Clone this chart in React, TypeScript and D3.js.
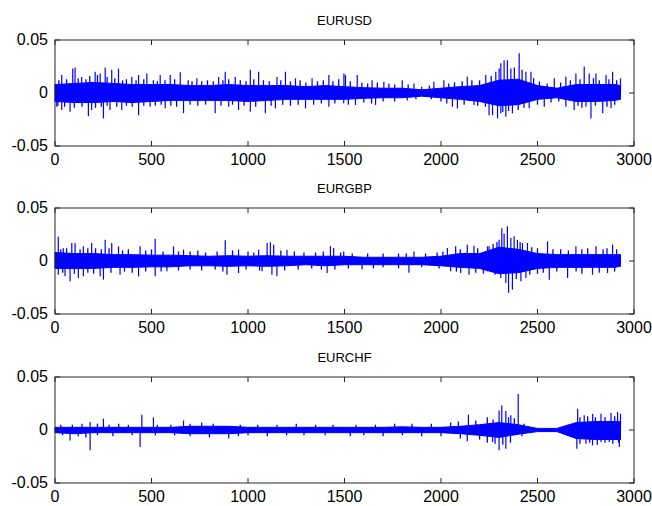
import React from 'react';
import * as d3 from 'd3';

const titles = ['EURUSD', 'EURGBP', 'EURCHF'];
const xTicks = [0, 500, 1000, 1500, 2000, 2500, 3000];
const yTicks = [-0.05, 0, 0.05];
const yTickLabels = ['-0.05', '0', '0.05'];

// dense core band, sampled every 100 observations (last sample at 2930)
const bandIndex = [0, 100, 200, 300, 400, 500, 600, 700, 800, 900, 1000, 1100, 1200, 1300, 1400, 1500, 1600, 1700, 1800, 1900, 2000, 2100, 2200, 2300, 2400, 2500, 2600, 2700, 2800, 2900, 2930];

const usdTop = [0.008, 0.009, 0.010, 0.009, 0.008, 0.008, 0.008, 0.007, 0.007, 0.008, 0.007, 0.007, 0.007, 0.006, 0.007, 0.006, 0.005, 0.0045, 0.0045, 0.003, 0.0045, 0.006, 0.007, 0.012, 0.013, 0.007, 0.0045, 0.008, 0.008, 0.008, 0.007];
const usdBottom = [-0.008, -0.009, -0.009, -0.008, -0.009, -0.008, -0.007, -0.007, -0.007, -0.007, -0.008, -0.007, -0.006, -0.006, -0.006, -0.006, -0.005, -0.0045, -0.0045, -0.003, -0.0045, -0.006, -0.008, -0.012, -0.011, -0.006, -0.0045, -0.008, -0.008, -0.007, -0.006];
// tallest visible excursions
const usdSpikes: [number, number][] = [
  [35, 0.017], [92, 0.023], [104, 0.024], [138, 0.015], [208, 0.020], [234, 0.0185], [260, 0.024], [294, 0.022], [329, 0.023], [398, 0.015], [433, 0.017], [476, 0.0185], [545, 0.017], [597, 0.017], [649, 0.0195], [735, 0.0138],
  [9, -0.013], [35, -0.016], [78, -0.0176], [173, -0.022], [190, -0.016], [251, -0.024], [285, -0.016], [346, -0.016], [433, -0.021], [493, -0.013], [571, -0.0145], [666, -0.019],
  [848, 0.015], [882, 0.020], [934, 0.015], [1012, 0.022], [1055, 0.020], [1150, 0.015], [1194, 0.020], [1246, 0.0138], [1332, 0.0138], [1419, 0.017], [1497, 0.0185],
  [830, -0.019], [900, -0.013], [951, -0.016], [1012, -0.0176], [1090, -0.019], [1142, -0.0145], [1298, -0.0145], [1419, -0.013],
  [1505, 0.017], [1566, 0.017], [1643, 0.012], [1704, 0.0107], [1799, 0.012], [1860, 0.009], [1963, 0.0107], [2015, 0.012], [2136, 0.0154], [2232, 0.017],
  [1496, -0.0097], [1557, -0.0113], [1661, -0.0113], [1825, -0.007], [2059, -0.013], [2085, -0.0145], [2171, -0.0113], [2249, -0.021],
  [2284, 0.020], [2301, 0.023], [2310, 0.028], [2327, 0.031], [2344, 0.031], [2362, 0.023], [2405, 0.0374], [2440, 0.020], [2466, 0.020], [2587, 0.0138], [2647, 0.0154], [2699, 0.0185], [2742, 0.025], [2768, 0.0185], [2803, 0.0185], [2855, 0.017], [2889, 0.020], [2930, 0.0138],
  [2267, -0.021], [2293, -0.024], [2310, -0.019], [2336, -0.0223], [2370, -0.0192], [2457, -0.0145], [2535, -0.0129], [2647, -0.0129], [2690, -0.016], [2751, -0.0129], [2777, -0.024], [2838, -0.0192], [2881, -0.0145],
];
// smaller excursions that make the ragged edge of the band
const usdMinor: [number, number][] = [
  [20, 0.012], [60, 0.013], [120, 0.014], [160, 0.013], [180, 0.016], [220, 0.017], [270, 0.015], [310, 0.014], [350, 0.012], [370, 0.013], [420, 0.012], [460, 0.013], [510, 0.012], [530, 0.011], [570, 0.012], [620, 0.013], [690, 0.012], [710, 0.011], [760, 0.011], [790, 0.012], [820, 0.011], [870, 0.012], [900, 0.013], [960, 0.012], [990, 0.011], [1030, 0.013], [1080, 0.012], [1110, 0.011], [1170, 0.012], [1220, 0.011], [1270, 0.012], [1300, 0.010], [1360, 0.011], [1390, 0.012], [1440, 0.011], [1470, 0.013], [1530, 0.011], [1590, 0.010], [1620, 0.009], [1670, 0.010], [1730, 0.009], [1760, 0.008], [1830, 0.008], [1900, 0.006], [1940, 0.007], [2040, 0.009], [2070, 0.010], [2110, 0.011], [2160, 0.012], [2200, 0.012], [2260, 0.016], [2380, 0.024], [2420, 0.022], [2480, 0.014], [2510, 0.011], [2550, 0.009], [2620, 0.010], [2670, 0.012], [2720, 0.013], [2790, 0.014], [2820, 0.012], [2870, 0.013], [2910, 0.012],
  [15, -0.012], [50, -0.013], [100, -0.014], [140, -0.013], [210, -0.014], [240, -0.013], [270, -0.012], [320, -0.013], [370, -0.012], [400, -0.013], [460, -0.012], [520, -0.012], [550, -0.011], [600, -0.012], [630, -0.013], [700, -0.011], [740, -0.012], [780, -0.011], [860, -0.012], [920, -0.011], [980, -0.012], [1040, -0.013], [1120, -0.012], [1180, -0.011], [1220, -0.012], [1260, -0.011], [1340, -0.011], [1380, -0.010], [1450, -0.010], [1520, -0.011], [1600, -0.009], [1640, -0.010], [1700, -0.008], [1760, -0.008], [1870, -0.006], [1950, -0.006], [2000, -0.008], [2030, -0.010], [2120, -0.011], [2190, -0.012], [2230, -0.013], [2320, -0.018], [2350, -0.017], [2400, -0.016], [2430, -0.014], [2500, -0.011], [2570, -0.009], [2610, -0.008], [2710, -0.012], [2730, -0.014], [2800, -0.012], [2860, -0.013], [2900, -0.011],
];

const gbpTop = [0.008, 0.007, 0.007, 0.006, 0.006, 0.0055, 0.0055, 0.005, 0.0045, 0.005, 0.0045, 0.005, 0.0045, 0.0045, 0.0045, 0.0045, 0.0035, 0.0035, 0.0035, 0.0035, 0.0045, 0.007, 0.007, 0.013, 0.011, 0.007, 0.006, 0.006, 0.006, 0.006, 0.006];
const gbpBottom = [-0.007, -0.007, -0.007, -0.006, -0.006, -0.0055, -0.0055, -0.0045, -0.0045, -0.005, -0.0045, -0.005, -0.0045, -0.0035, -0.0045, -0.0035, -0.0035, -0.0035, -0.0035, -0.0035, -0.0045, -0.006, -0.007, -0.012, -0.011, -0.007, -0.006, -0.006, -0.006, -0.006, -0.005];
const gbpSpikes: [number, number][] = [
  [17, 0.023], [43, 0.012], [87, 0.017], [104, 0.017], [147, 0.0138], [190, 0.017], [260, 0.020], [294, 0.017], [329, 0.0138], [441, 0.0138], [519, 0.021], [614, 0.0138], [666, 0.0107],
  [17, -0.0129], [52, -0.0145], [78, -0.019], [121, -0.016], [147, -0.0145], [234, -0.0145], [251, -0.0176], [337, -0.0129], [433, -0.0145], [519, -0.0145], [580, -0.0097],
  [882, 0.0195], [951, 0.0107], [1055, 0.0107], [1099, 0.017], [1116, 0.0176], [1133, 0.0154], [1202, 0.0107], [1427, 0.014], [1444, 0.0123],
  [891, -0.0129], [951, -0.0113], [1073, -0.0097], [1124, -0.0129], [1150, -0.0145], [1410, -0.0113],
  [1496, 0.009], [1860, 0.009], [2033, 0.0123], [2076, 0.0138], [2136, 0.0154], [2171, 0.0145], [2249, 0.0138],
  [1591, -0.008], [1834, -0.011], [2050, -0.0097], [2102, -0.0113], [2145, -0.013], [2240, -0.0097],
  [2241, 0.0138], [2301, 0.020], [2315, 0.031], [2327, 0.026], [2344, 0.0327], [2362, 0.0217], [2379, 0.0233], [2396, 0.020], [2422, 0.017], [2448, 0.017], [2552, 0.0186], [2699, 0.0138], [2803, 0.0138], [2889, 0.0154],
  [2310, -0.016], [2336, -0.0208], [2350, -0.030], [2370, -0.027], [2414, -0.0192], [2440, -0.016], [2561, -0.0176], [2656, -0.016], [2785, -0.0129], [2863, -0.0113],
];
const gbpMinor: [number, number][] = [
  [30, 0.011], [60, 0.012], [130, 0.011], [170, 0.012], [210, 0.012], [240, 0.011], [280, 0.012], [350, 0.010], [380, 0.011], [470, 0.010], [500, 0.011], [560, 0.009], [640, 0.009], [700, 0.009], [740, 0.010], [780, 0.008], [840, 0.009], [920, 0.010], [1000, 0.009], [1030, 0.008], [1170, 0.010], [1240, 0.009], [1290, 0.008], [1350, 0.008], [1390, 0.009], [1480, 0.008], [1540, 0.007], [1620, 0.007], [1700, 0.007], [1780, 0.007], [1820, 0.007], [1920, 0.007], [1980, 0.008], [2010, 0.009], [2100, 0.011], [2190, 0.012], [2270, 0.016], [2290, 0.018], [2410, 0.018], [2470, 0.013], [2500, 0.012], [2580, 0.011], [2620, 0.011], [2660, 0.010], [2730, 0.011], [2760, 0.012], [2840, 0.011], [2860, 0.012], [2910, 0.011],
  [40, -0.011], [100, -0.012], [170, -0.011], [200, -0.012], [290, -0.011], [360, -0.010], [400, -0.011], [470, -0.010], [550, -0.010], [640, -0.009], [700, -0.008], [760, -0.009], [830, -0.008], [870, -0.010], [990, -0.008], [1060, -0.009], [1190, -0.009], [1260, -0.008], [1330, -0.007], [1380, -0.008], [1450, -0.008], [1520, -0.007], [1650, -0.007], [1700, -0.006], [1780, -0.007], [1900, -0.006], [1990, -0.007], [2080, -0.010], [2180, -0.011], [2220, -0.012], [2280, -0.013], [2390, -0.017], [2460, -0.013], [2500, -0.012], [2530, -0.011], [2600, -0.010], [2700, -0.010], [2730, -0.012], [2820, -0.011], [2900, -0.010],
];

const chfTop = [0.0025, 0.0025, 0.0025, 0.0025, 0.0025, 0.0025, 0.0025, 0.0035, 0.0035, 0.0035, 0.0025, 0.0025, 0.0025, 0.0025, 0.0025, 0.0025, 0.0025, 0.0025, 0.003, 0.0025, 0.0025, 0.0035, 0.005, 0.007, 0.005, 0.0015, 0.0015, 0.007, 0.008, 0.008, 0.008];
const chfBottom = [-0.0025, -0.0035, -0.0025, -0.0025, -0.0025, -0.0025, -0.0025, -0.0035, -0.0035, -0.0035, -0.0025, -0.0025, -0.0025, -0.0025, -0.0025, -0.0025, -0.0025, -0.0025, -0.0025, -0.0025, -0.0025, -0.0035, -0.005, -0.007, -0.004, -0.0015, -0.0015, -0.008, -0.009, -0.009, -0.009];
const chfSpikes: [number, number][] = [
  [182, 0.0075], [251, 0.0107], [450, 0.0145], [510, 0.012], [666, 0.009], [2142, 0.0145], [2301, 0.0185], [2315, 0.023], [2336, 0.018], [2362, 0.0138], [2400, 0.034], [2708, 0.020], [2742, 0.0138], [2786, 0.0154], [2829, 0.0154], [2881, 0.016], [2915, 0.017], [2930, 0.0154],
  [78, -0.0098], [182, -0.019], [441, -0.016], [900, -0.008], [2136, -0.0107], [2267, -0.0113], [2301, -0.019], [2336, -0.0176], [2704, -0.0176], [2751, -0.0129], [2785, -0.0145], [2829, -0.0113], [2872, -0.0113], [2924, -0.016],
];
const chfMinor: [number, number][] = [
  [30, 0.005], [90, 0.005], [140, 0.006], [220, 0.006], [280, 0.005], [330, 0.006], [380, 0.005], [530, 0.005], [600, 0.005], [700, 0.006], [760, 0.007], [820, 0.006], [960, 0.005], [1050, 0.005], [1150, 0.005], [1250, 0.006], [1350, 0.005], [1440, 0.005], [1560, 0.005], [1660, 0.005], [1760, 0.006], [1850, 0.006], [1950, 0.006], [2050, 0.007], [2090, 0.008], [2180, 0.009], [2240, 0.012], [2270, 0.010], [2350, 0.012], [2380, 0.011], [2430, 0.006], [2720, 0.012], [2760, 0.013], [2800, 0.012], [2850, 0.012], [2900, 0.013],
  [40, -0.005], [120, -0.006], [160, -0.007], [220, -0.005], [300, -0.006], [400, -0.005], [520, -0.005], [620, -0.005], [700, -0.006], [800, -0.007], [950, -0.006], [1000, -0.005], [1100, -0.006], [1200, -0.005], [1290, -0.005], [1400, -0.005], [1530, -0.006], [1600, -0.005], [1700, -0.006], [1800, -0.005], [1900, -0.006], [2000, -0.006], [2100, -0.008], [2200, -0.009], [2240, -0.012], [2280, -0.013], [2320, -0.014], [2360, -0.012], [2420, -0.006], [2720, -0.013], [2770, -0.012], [2810, -0.014], [2850, -0.012], [2890, -0.013], [2920, -0.012],
];

const series = [
  { top: usdTop, bottom: usdBottom, spikes: usdSpikes, minor: usdMinor },
  { top: gbpTop, bottom: gbpBottom, spikes: gbpSpikes, minor: gbpMinor },
  { top: chfTop, bottom: chfBottom, spikes: chfSpikes, minor: chfMinor },
];

const W = 652;
const H = 506;
const left = 55;
const right = 634;
const panelTops = [40, 208, 377];
const panelH = 106;
const BLUE = '#0000ff';
const AX = '#262626';
const FONT = 'Arial, "Liberation Sans", sans-serif';

export default function App() {
  const x = d3.scaleLinear().domain([0, 3000]).range([left, right]);
  return (
    <svg width={W} height={H} style={{ position: 'absolute', left: 0, top: 0, background: '#fff' }}>
      <rect x={0} y={0} width={W} height={H} fill="#fff" />
      {series.map((s, i) => {
        const top = panelTops[i];
        const y = d3.scaleLinear().domain([-0.05, 0.05]).range([top + panelH, top]);
        const area = d3
          .area<number>()
          .x((_, k) => x(bandIndex[k]))
          .y0((_, k) => y(s.bottom[k]))
          .y1((_, k) => y(s.top[k]))
          .curve(d3.curveLinear);
        return (
          <g key={i}>
            <text x={(left + right) / 2} y={top - 15} textAnchor="middle" fontFamily={FONT} fontSize={13} fill="#000">
              {titles[i]}
            </text>
            <path d={area(s.top) || ''} fill={BLUE} stroke={BLUE} strokeWidth={1} />
            {s.minor.map(([idx, v], k) => (
              <line key={'m' + k} x1={x(idx)} x2={x(idx)} y1={y(0)} y2={y(v)} stroke={BLUE} strokeWidth={1.3} />
            ))}
            {s.spikes.map(([idx, v], k) => (
              <line key={k} x1={x(idx)} x2={x(idx)} y1={y(0)} y2={y(v)} stroke={BLUE} strokeWidth={1.2} />
            ))}
            <rect x={left} y={top} width={right - left} height={panelH} fill="none" stroke={AX} strokeWidth={1} />
            {xTicks.map((t) => (
              <g key={'x' + t}>
                <line x1={x(t)} x2={x(t)} y1={top + panelH} y2={top + panelH - 5} stroke={AX} />
                <line x1={x(t)} x2={x(t)} y1={top} y2={top + 5} stroke={AX} />
                <text x={x(t)} y={top + panelH + 19} textAnchor="middle" fontFamily={FONT} fontSize={16} fill="#000">
                  {t}
                </text>
              </g>
            ))}
            {yTicks.map((t, k) => (
              <g key={'y' + t}>
                <line x1={left} x2={left + 5} y1={y(t)} y2={y(t)} stroke={AX} />
                <line x1={right} x2={right - 5} y1={y(t)} y2={y(t)} stroke={AX} />
                <text x={left - 7} y={y(t) + 5} textAnchor="end" fontFamily={FONT} fontSize={16} fill="#000">
                  {yTickLabels[k]}
                </text>
              </g>
            ))}
          </g>
        );
      })}
    </svg>
  );
}
